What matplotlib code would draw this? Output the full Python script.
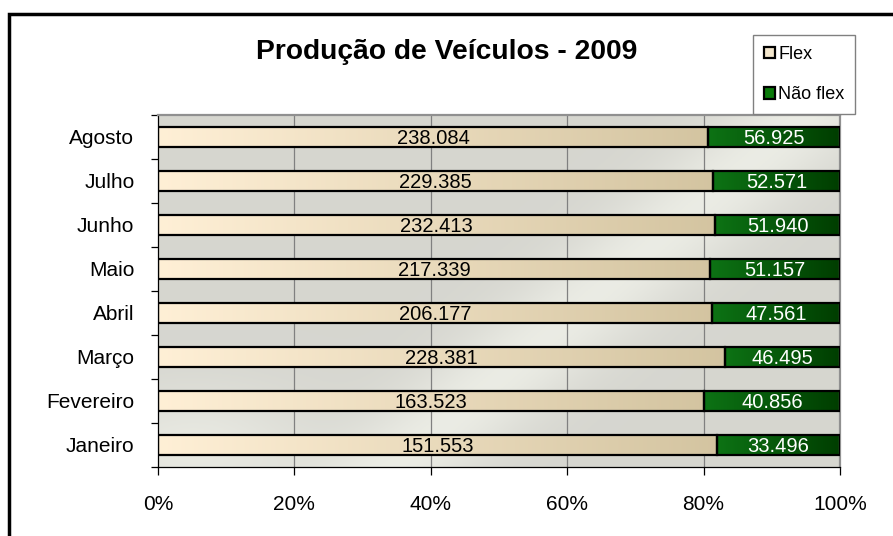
import numpy as np
import matplotlib
matplotlib.use("Agg")
import matplotlib.pyplot as plt
from matplotlib.patches import Patch, Rectangle

plt.rcParams['font.family'] = ['Liberation Sans', 'DejaVu Sans']

# dados
meses = ['Janeiro', 'Fevereiro', 'Março', 'Abril', 'Maio', 'Junho', 'Julho', 'Agosto']
flex = [151553, 163523, 228381, 206177, 217339, 232413, 229385, 238084]
nao_flex = [33496, 40856, 46495, 47561, 51157, 51940, 52571, 56925]
series = ['Flex', 'Não flex']
titulo = 'Produção de Veículos - 2009'


def fmt(v):
    return f"{v:,}".replace(',', '.')


def gradiente(ax, patch, c1, c2):
    x0, y0 = patch.get_x(), patch.get_y()
    w, h = patch.get_width(), patch.get_height()
    t = np.linspace(0, 1, 256)
    cols = np.array(c1)[None, :] * (1 - t[:, None]) + np.array(c2)[None, :] * t[:, None]
    img = ax.imshow(cols[None, :, :], extent=(x0, x0 + w, y0, y0 + h), aspect='auto',
                    zorder=2.5, interpolation='bilinear')
    img.set_clip_path(patch)


fig = plt.figure(figsize=(8.93, 5.36), dpi=100)
ax = fig.add_axes([158 / 893, 1 - 467 / 536, 682 / 893, 352 / 536])

# fundo da área de plotagem (textura aproximada)
yy, xx = np.mgrid[0:1:200j, 0:1:300j]
base = np.ones((200, 300, 3)) * np.array([0.84, 0.84, 0.815])
d = xx + 0.6 * yy
band = np.exp(-((d - 0.95) / 0.12) ** 2) * 0.08
band2 = np.exp(-((xx - 0.05) ** 2 + (yy - 0.95) ** 2) / 0.03) * 0.07
bg = np.clip(base + (band + band2)[:, :, None] * np.array([1.0, 1.05, 1.0]), 0, 1)
ax.imshow(bg, extent=(0, 1, 0, 1), transform=ax.transAxes, aspect='auto', zorder=0)

tot = np.array(flex) + np.array(nao_flex)
pf = np.array(flex) / tot
pn = np.array(nao_flex) / tot
y = np.arange(len(meses))

b1 = ax.barh(y, pf, height=0.45, facecolor='none', edgecolor='black', lw=1.6, zorder=3)
b2 = ax.barh(y, pn, left=pf, height=0.45, facecolor='none', edgecolor='black', lw=1.6, zorder=3)

for p in b1:
    gradiente(ax, p, (1.0, 0.94, 0.84), (0.83, 0.77, 0.63))
for p in b2:
    gradiente(ax, p, (0.05, 0.45, 0.08), (0.0, 0.24, 0.0))

for i in range(len(meses)):
    ax.text(pf[i] / 2, y[i] - 0.04, fmt(flex[i]), ha='center', va='center',
            fontsize=14.5, color='black', zorder=4)
    ax.text(pf[i] + pn[i] / 2, y[i] - 0.04, fmt(nao_flex[i]), ha='center', va='center',
            fontsize=14.5, color='white', zorder=4)

ax.set_xlim(0, 1)
ax.set_ylim(-0.5, len(meses) - 0.5)
xt = np.linspace(0, 1, 6)
ax.set_xticks(xt)
ax.set_xticklabels([f"{int(round(v * 100))}%" for v in xt], fontsize=15)
for v in xt[1:-1]:
    ax.axvline(v, color='#808080', lw=0.9, zorder=1)

ax.set_yticks(y)
ax.set_yticklabels(meses, fontsize=15)
ax.set_yticks(np.arange(-0.5, len(meses), 1), minor=True)
ax.tick_params(axis='y', which='major', length=0, pad=17)
ax.tick_params(axis='y', which='minor', length=5, width=0.9, direction='out')
ax.tick_params(axis='x', length=6, width=0.9, direction='out', pad=14)

ax.spines['left'].set_color('black')
ax.spines['bottom'].set_color('black')
ax.spines['left'].set_linewidth(0.9)
ax.spines['bottom'].set_linewidth(0.9)
ax.spines['top'].set_color('#909090')
ax.spines['right'].set_color('#909090')
ax.spines['top'].set_linewidth(1.6)
ax.spines['right'].set_linewidth(1.6)

fig.text(447 / 893, 1 - 52 / 536, titulo, ha='center', va='center',
         fontsize=20.3, fontweight='bold')

handles = [Patch(facecolor='#f3e6cc', edgecolor='black', lw=1.6),
           Patch(facecolor='#0a7a0a', edgecolor='black', lw=1.6)]
leg = fig.legend(handles, series, loc='upper left', bbox_to_anchor=(753 / 893, 1 - 35 / 536),
                 fontsize=13, handlelength=0.6, handleheight=0.6, handletextpad=0.2,
                 labelspacing=1.3, borderpad=0.6, fancybox=False, framealpha=1,
                 edgecolor='#808080', borderaxespad=0)
leg.get_frame().set_linewidth(1.0)

# moldura externa
fig.patches.append(Rectangle((9 / 893, -0.1), 1.2, 1 - 14 / 536 + 0.1, transform=fig.transFigure,
                             fill=False, edgecolor='black', lw=2.5, figure=fig))

fig.savefig('out.png', dpi=100, facecolor='white')
